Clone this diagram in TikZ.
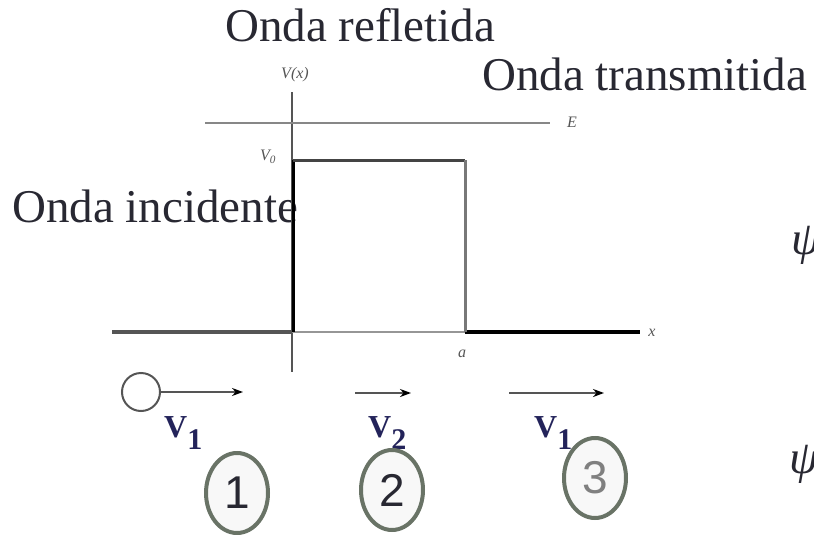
\documentclass[tikz,border=0pt]{standalone}
\usepackage{fontspec}
\setmainfont{Liberation Serif}
\newfontfamily\digitfont{Liberation Sans}
\usetikzlibrary{shapes.geometric,arrows.meta,positioning}
\definecolor{TextDark}{RGB}{40,40,50}
\definecolor{AxisGray}{RGB}{85,85,85}
\definecolor{LightGray}{RGB}{150,150,150}
\definecolor{RingGreen}{RGB}{105,115,102}
\definecolor{RingFill}{RGB}{248,248,248}
\definecolor{LabelNavy}{RGB}{35,35,90}

\begin{document}
\begin{tikzpicture}[
  x=1pt, y=-1pt,
  bigtext/.style={
    font=\fontsize{47}{56}\selectfont,
    text=TextDark, inner sep=0pt},
  axislabel/.style={
    font=\fontsize{16}{18}\selectfont\itshape,
    text=AxisGray, inner sep=0pt},
  ring/.style={
    ellipse, draw=RingGreen, fill=RingFill,
    line width=4pt,
    minimum width=62pt, minimum height=80pt,
    inner sep=0pt,
    font=\digitfont\fontsize{46}{46}\selectfont},
  speed/.style={
    font=\fontsize{32}{36}\selectfont\bfseries,
    text=LabelNavy, inner sep=0pt},
  motion/.style={
    -{Stealth[length=11pt,width=8pt,color=black]},
    line width=2.6pt, draw=AxisGray}
]
\useasboundingbox (0,0) rectangle (814,535);

% texts of the waves
\node[bigtext, anchor=base west] (refl) at (225,42) {Onda refletida};
\node[bigtext, anchor=base west] (trans) at (482,90) {Onda transmitida};
\node[bigtext, anchor=base west] (inc) at (12,222) {Onda incidente};
\node[bigtext, anchor=west, font=\fontsize{47}{56}\selectfont\itshape] (psi1) at (791,245) {ψ};
\node[bigtext, anchor=west, font=\fontsize{47}{56}\selectfont\itshape] (psi2) at (789,464) {ψ};

% potential
\coordinate (org) at (292,332);
\coordinate (ytop) at (292,92);
\coordinate (ybot) at (292,372);
\coordinate (xl) at (112,332);
\coordinate (xr) at (640,332);
\coordinate (bl) at (293,160);
\coordinate (br) at (465,160);
\coordinate (ba) at (465,332);
\coordinate (el) at (205,123);
\coordinate (er) at (550,123);

\draw[line width=1.6pt, AxisGray] (ytop) -- (ybot);
\draw[line width=2.6pt, LightGray!90!black] (el) -- (er);
\draw[line width=3.2pt, AxisGray] (xl) -- (org);
\draw[line width=2.4pt, LightGray] (org) -- (ba);
\draw[line width=3.2pt, black] (ba) -- (xr);
\draw[line width=3pt, black] (293,332) -- (bl);
\draw[line width=3pt, AxisGray!80!black] (bl) -- (br);
\draw[line width=3pt, LightGray!80!black] (br) -- (ba);

\node[axislabel] (vx) at (295,75) {V(x)};
\node[axislabel] (v0) at (268,157) {V\textsubscript{0}};
\node[axislabel] (elab) at (572,122) {E};
\node[axislabel] (alab) at (462,354) {a};
\node[axislabel] (xlab) at (652,333) {x};

% particle and speeds
\node[circle, draw=AxisGray, line width=2pt, minimum size=38pt, inner sep=0pt] (part) at (141,392) {};
\coordinate (tip1) at (243,392);
\coordinate (s2) at (355,393);
\coordinate (tip2) at (411,393);
\coordinate (s3) at (509,393);
\coordinate (tip3) at (604,393);
\draw[motion] (part.east) -- (tip1);
\draw[motion] (s2) -- (tip2);
\draw[motion] (s3) -- (tip3);

\node[speed, anchor=base west] (v1) at (164,437) {V\raisebox{-12pt}{\fontsize{30}{30}\selectfont 1}};
\node[speed, anchor=base west] (v2) at (368,437) {V\raisebox{-12pt}{\fontsize{30}{30}\selectfont 2}};
\node[speed, anchor=base west] (v3) at (534,437) {V\raisebox{-12pt}{\fontsize{30}{30}\selectfont 1}};

% regions
\node[ring, text=TextDark] (r1) at (237,493) {1};
\node[ring, text=TextDark] (r2) at (392,490) {2};
\node[ring, text=gray] (r3) at (595,478) {3};
\end{tikzpicture}
\end{document}
